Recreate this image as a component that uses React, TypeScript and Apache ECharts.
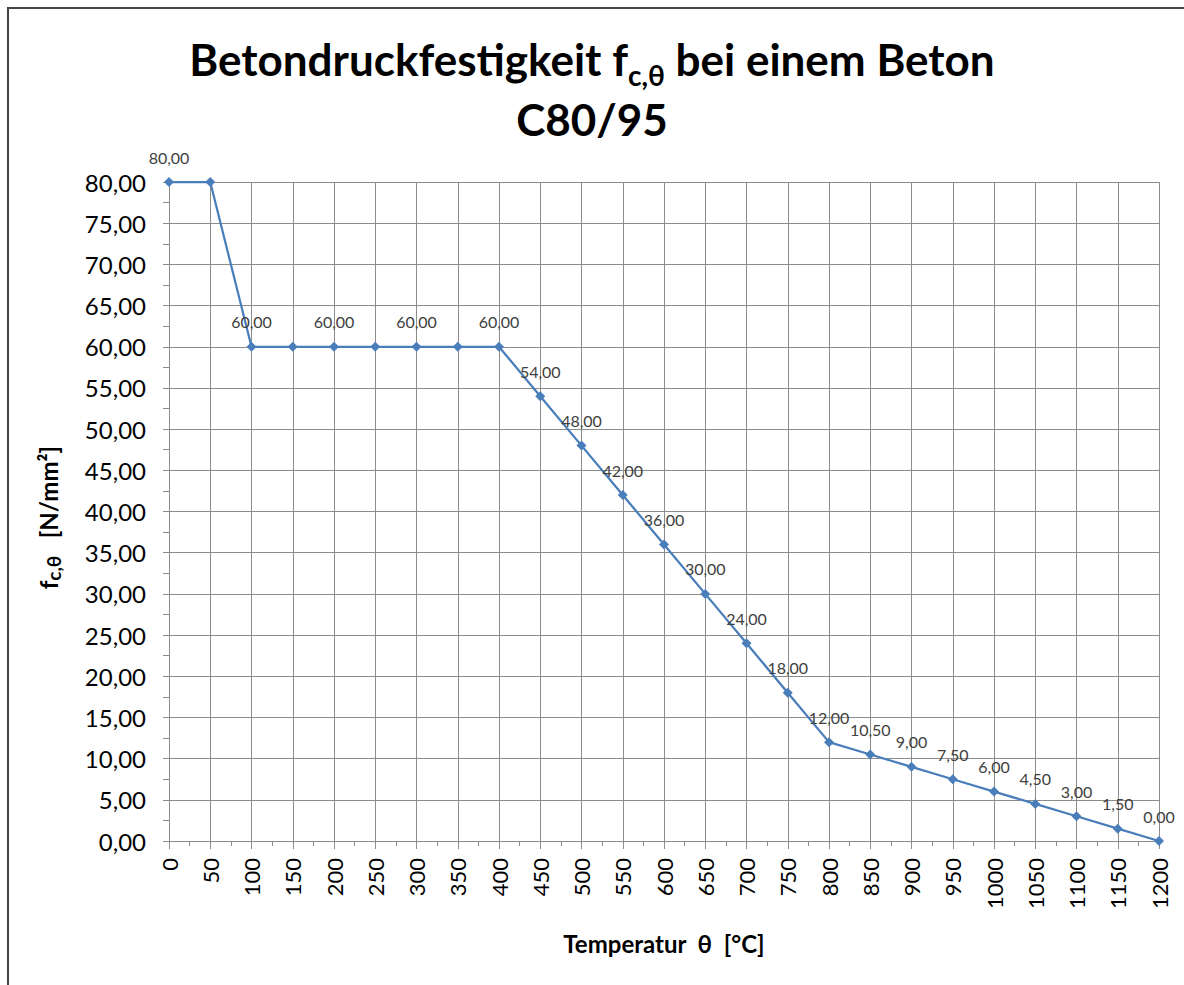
import React, { useEffect, useRef } from "react";
import * as echarts from "echarts";

const temperatures = [0, 50, 100, 150, 200, 250, 300, 350, 400, 450, 500, 550, 600, 650, 700, 750, 800, 850, 900, 950, 1000, 1050, 1100, 1150, 1200];
const strengths = [80, 80, 60, 60, 60, 60, 60, 60, 60, 54, 48, 42, 36, 30, 24, 18, 12, 10.5, 9, 7.5, 6, 4.5, 3, 1.5, 0];
const hiddenLabelTemps = [50, 150, 250, 350];

const FONT = "Lato, 'Open Sans', sans-serif";
const fmt = (v: number) => v.toFixed(2).replace(".", ",");

export default function App() {
  const ref = useRef<HTMLDivElement>(null);
  useEffect(() => {
    if (!ref.current) return;
    const chart = echarts.init(ref.current, undefined, { renderer: "svg" });
    const data = temperatures.map((t, i) => ({
      value: [t, strengths[i]],
      label: { show: !hiddenLabelTemps.includes(t) },
    }));
    chart.setOption({
      animation: false,
      backgroundColor: "#ffffff",
      textStyle: { fontFamily: FONT },
      title: {
        text: "{a|Betondruckfestigkeit f}{s|c,θ}{a| bei einem Beton}\n{a|C80/95}",
        left: "center",
        top: 24,
        textStyle: {
          rich: {
            a: { fontSize: 44, fontWeight: "bold", color: "#000", fontFamily: FONT, lineHeight: 60 },
            s: { fontSize: 28, fontWeight: "bold", color: "#000", fontFamily: FONT, lineHeight: 40, verticalAlign: "bottom" },
          },
        },
      },
      graphic: [
        {
          type: "rect",
          shape: { x: 8, y: 8, width: 1200, height: 1000 },
          style: { fill: "none", stroke: "#444", lineWidth: 2 },
          silent: true,
        },
      ],
      grid: { left: 169, right: 25, top: 182, bottom: 144 },
      xAxis: {
        type: "value",
        min: 0,
        max: 1200,
        interval: 50,
        name: "{b|Temperatur  θ  [°C]}",
        nameLocation: "middle",
        nameGap: 90,
        nameTextStyle: { rich: { b: { fontSize: 24, fontWeight: "bold", color: "#000", fontFamily: FONT } } },
        axisLine: { show: true, lineStyle: { color: "#8c8c8c", width: 1 } },
        axisTick: { show: true, length: 8, lineStyle: { color: "#8c8c8c" } },
        minorTick: { show: true, splitNumber: 2, length: 5, lineStyle: { color: "#8c8c8c" } },
        splitLine: { show: true, lineStyle: { color: "#8c8c8c", width: 1 } },
        axisLabel: { rotate: 90, fontSize: 22, color: "#000", margin: 17, fontFamily: FONT, formatter: (v: number) => String(v) },
      },
      yAxis: {
        type: "value",
        min: 0,
        max: 80,
        interval: 5,
        name: "{b|f}{s|c,θ}{b|   [N/mm²]}  ",
        nameLocation: "middle",
        nameRotate: 90,
        nameGap: 106,
        nameTextStyle: {
          fontSize: 24,
          rich: {
            b: { fontSize: 24, fontWeight: "bold", color: "#000", fontFamily: FONT, lineHeight: 30 },
            s: { fontSize: 19, fontWeight: "bold", color: "#000", fontFamily: FONT, lineHeight: 22, verticalAlign: "bottom" },
          },
        },
        axisLine: { show: true, lineStyle: { color: "#8c8c8c", width: 1 } },
        axisTick: { show: true, length: 6, lineStyle: { color: "#8c8c8c" } },
        minorTick: { show: true, splitNumber: 2, length: 6, lineStyle: { color: "#8c8c8c" } },
        splitLine: { show: true, lineStyle: { color: "#8c8c8c", width: 1 } },
        axisLabel: { fontSize: 24, color: "#000", margin: 23, formatter: (v: number) => fmt(v), fontFamily: FONT },
      },
      series: [
        {
          type: "line",
          data,
          symbol: "diamond",
          symbolSize: 10,
          lineStyle: { color: "#4a7ebb", width: 2.25 },
          itemStyle: { color: "#4a7ebb" },
          label: {
            show: true,
            position: "top",
            distance: 12,
            fontSize: 16,
            color: "#404040",
            fontFamily: FONT,
            formatter: (p: any) => fmt(p.value[1]),
          },
        },
      ],
    });
    return () => chart.dispose();
  }, []);
  return <div ref={ref} style={{ position: "fixed", left: 0, top: 0, width: 1184, height: 985 }} />;
}
